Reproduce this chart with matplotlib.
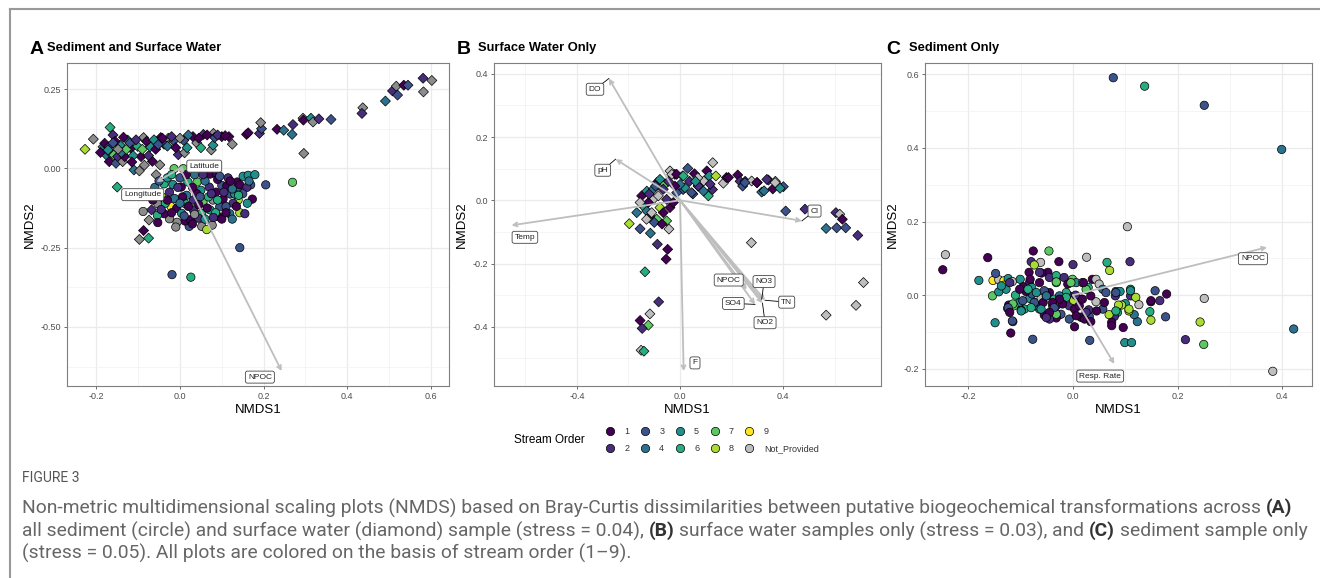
import numpy as np
import matplotlib.pyplot as plt
from matplotlib.lines import Line2D

# ---------------- data ----------------
# Panel A - surface water samples (diamonds); order 0 = Not_Provided
a_sw_x = [-0.227, -0.207, -0.167, -0.160, -0.150, -0.184, -0.180, -0.176, -0.170, -0.169,
          -0.165, -0.158, -0.153, -0.149, -0.143, -0.137, -0.132, -0.125, -0.117, -0.110,
          -0.101, -0.097, -0.093, -0.087, -0.085, -0.071, -0.066, -0.058, -0.048, -0.046,
          -0.038, -0.028, -0.015, -0.004, 0.011, 0.009, 0.017, 0.031, 0.040, 0.056,
          0.075, 0.079, 0.080, 0.083, 0.100, 0.117, 0.125, 0.159, 0.163, 0.190,
          0.195, 0.193, 0.232, 0.248, 0.270, 0.268, 0.296, 0.294, 0.295, 0.313,
          0.318, 0.332, 0.361, 0.437, 0.435, 0.491, 0.508, 0.517, 0.520, 0.535,
          0.545, 0.581, 0.602, 0.582, -0.087, -0.097, -0.075, -0.074, -0.068, -0.057,
          -0.190, -0.172, -0.155, -0.140, -0.128, -0.120, -0.112, -0.105, -0.090, -0.080,
          -0.075, -0.062, -0.052, -0.042, -0.030, -0.020, -0.010, 0.000, 0.020, 0.045,
          0.065, 0.090, 0.108, 0.050, -0.135, -0.148, -0.115, -0.160]
a_sw_y = [0.060, 0.092, 0.129, 0.105, -0.059, 0.068, 0.079, 0.042, 0.068, 0.021,
          0.047, 0.042, 0.016, 0.037, 0.073, 0.021, 0.037, 0.089, 0.063, -0.005,
          0.069, -0.008, 0.037, 0.097, 0.010, 0.068, 0.022, 0.060, 0.011, 0.097,
          0.076, 0.095, 0.087, 0.043, 0.049, 0.088, 0.065, 0.100, 0.080, 0.107,
          0.058, 0.073, 0.110, 0.097, 0.100, 0.100, 0.076, 0.107, 0.112, 0.110,
          0.125, 0.144, 0.123, 0.120, 0.138, 0.107, 0.047, 0.158, 0.152, 0.158,
          0.146, 0.156, 0.154, 0.191, 0.173, 0.212, 0.244, 0.259, 0.231, 0.262,
          0.262, 0.284, 0.277, 0.241, -0.196, -0.224, -0.220, -0.163, -0.131, -0.020,
          0.050, 0.058, 0.085, 0.050, 0.060, 0.080, 0.040, 0.090, 0.060, 0.085,
          0.040, 0.090, 0.075, 0.095, 0.070, 0.100, 0.065, 0.095, 0.105, 0.095,
          0.105, 0.105, 0.103, 0.065, 0.098, 0.060, 0.020, 0.080]
a_sw_order = [8, 0, 6, 2, 6, 4, 1, 4, 2, 1,
              4, 7, 3, 2, 5, 0, 1, 5, 1, 4,
              6, 0, 1, 0, 0, 5, 1, 1, 0, 1,
              2, 0, 3, 2, 0, 3, 5, 1, 0, 2,
              0, 5, 0, 3, 1, 1, 0, 1, 1, 2,
              3, 0, 1, 4, 2, 4, 0, 0, 1, 5,
              0, 2, 3, 0, 2, 4, 2, 0, 3, 1,
              3, 2, 0, 0, 1, 0, 6, 0, 2, 0,
              1, 5, 1, 4, 7, 3, 5, 2, 7, 1,
              2, 5, 3, 1, 4, 2, 1, 0, 4, 1,
              1, 2, 1, 6, 1, 0, 1, 3]

# Panel A - sediment samples (circles)
a_sed_x = [-0.014, 0.008, 0.072, 0.087, 0.137, 0.151, 0.163, 0.179, 0.169, 0.205,
           0.269, 0.139, 0.173, 0.161, 0.139, 0.143, 0.155, 0.119, 0.092, 0.077,
           0.052, 0.064, 0.022, 0.012, -0.007, -0.025, -0.038, -0.054, -0.053, -0.088,
           -0.053, -0.021, -0.043, -0.025, -0.038, -0.017, 0.003, 0.019, 0.041, 0.050,
           0.070, 0.086, 0.100, 0.112, 0.120, 0.103, 0.079, 0.055, 0.032, 0.012,
           -0.008, 0.004, 0.032, 0.052, 0.072, 0.095, 0.127, 0.131, 0.040, 0.016,
           0.048, 0.068, -0.013, 0.006, 0.143, 0.125, 0.110, 0.044, 0.025, 0.143,
           -0.019, 0.026, -0.060, -0.030, 0.000, 0.030, 0.060, 0.090, 0.115, 0.085,
           0.100, 0.020, -0.035, 0.060, 0.125, -0.005, 0.160, 0.075, -0.065, 0.035,
           -0.070, -0.045, -0.020, 0.010, 0.035, 0.065, 0.090, 0.105, 0.135, 0.150,
           0.165, 0.120, 0.095, 0.055, 0.015, -0.020, -0.050, -0.030, 0.000, 0.045,
           0.080, 0.110, 0.030, -0.010, 0.140]
a_sed_y = [-0.001, -0.001, -0.018, -0.018, -0.043, -0.025, -0.022, -0.020, -0.052, -0.052,
           -0.044, -0.060, -0.097, -0.110, -0.100, -0.140, -0.143, -0.143, -0.152, -0.179,
           -0.183, -0.193, -0.183, -0.166, -0.170, -0.159, -0.143, -0.148, -0.171, -0.136,
           -0.112, -0.121, -0.090, -0.075, -0.049, -0.051, -0.059, -0.043, -0.043, -0.069,
           -0.059, -0.075, -0.054, -0.055, -0.081, -0.097, -0.100, -0.106, -0.100, -0.111,
           -0.126, -0.142, -0.131, -0.142, -0.131, -0.121, -0.110, -0.081, -0.080, -0.085,
           -0.090, -0.090, -0.095, -0.090, -0.052, -0.065, -0.120, -0.157, -0.162, -0.250,
           -0.335, -0.343, -0.060, -0.030, -0.030, -0.060, -0.040, -0.035, -0.030, -0.140,
           -0.160, -0.120, -0.110, -0.160, -0.160, -0.060, -0.060, -0.080, -0.100, -0.020,
           -0.080, -0.130, -0.140, -0.150, -0.145, -0.125, -0.100, -0.075, -0.120, -0.080,
           -0.040, -0.040, -0.025, -0.020, -0.020, -0.020, -0.040, -0.100, -0.110, -0.115,
           -0.155, -0.140, -0.175, -0.185, -0.085]
a_sed_order = [7, 7, 1, 1, 1, 5, 5, 5, 3, 3,
               7, 4, 1, 5, 8, 8, 2, 4, 1, 0,
               0, 8, 3, 1, 0, 0, 1, 6, 1, 0,
               0, 9, 8, 2, 6, 5, 1, 6, 7, 5,
               2, 1, 3, 1, 3, 1, 0, 7, 2, 6,
               1, 5, 2, 6, 5, 3, 2, 5, 1, 4,
               3, 6, 4, 1, 1, 4, 3, 2, 1, 3,
               3, 6, 4, 5, 3, 1, 4, 1, 2, 6,
               1, 1, 6, 5, 4, 2, 2, 2, 1, 4,
               1, 2, 1, 3, 0, 1, 6, 2, 1, 3,
               4, 1, 3, 2, 1, 6, 3, 1, 4, 1,
               2, 1, 1, 0, 6]

a_vec_names = ['Latitude', 'Longitude', 'NPOC']
a_vec_x = [0.012, -0.056, 0.243]
a_vec_y = [-0.012, -0.043, -0.639]
a_lab_x = [0.058, -0.089, 0.191]
a_lab_y = [0.007, -0.083, -0.658]

# Panel B - surface water only (diamonds)
b_x = [0.127, 0.030, -0.039, -0.020, 0.010, 0.056, 0.104, 0.092, 0.113, 0.139,
       0.168, 0.180, 0.224, 0.233, 0.243, 0.253, 0.278, 0.300, 0.317, 0.326,
       0.343, 0.360, 0.370, 0.383, 0.401, 0.388, 0.110, 0.126, 0.070, 0.050,
       0.012, 0.037, 0.069, 0.410, 0.485, 0.605, 0.620, 0.630, 0.567, 0.608,
       0.643, 0.690, 0.712, 0.683, 0.567, 0.277, -0.197, -0.155, -0.115, -0.088,
       -0.048, -0.054, -0.052, -0.043, -0.136, -0.083, -0.117, -0.123, -0.155, -0.147,
       -0.151, -0.140, -0.149, -0.129, -0.104, -0.090, -0.078, -0.058, -0.032, -0.013,
       0.013, 0.117, 0.188, 0.252, 0.298, 0.337, 0.369, -0.143, -0.129, -0.117,
       -0.090, -0.078, -0.052, -0.039, -0.104, -0.123, -0.168, -0.155, -0.110, -0.065,
       -0.026, -0.013, 0.019, 0.045, 0.071, 0.091, -0.065, -0.084, -0.120, -0.100,
       -0.070, -0.130, -0.095, -0.045, 0.000, -0.020, 0.060]
b_y = [0.119, 0.101, 0.093, 0.082, 0.077, 0.084, 0.093, 0.061, 0.077, 0.077,
       0.054, 0.072, 0.080, 0.060, 0.045, 0.060, 0.061, 0.056, 0.026, 0.030,
       0.064, 0.036, 0.060, 0.045, 0.043, 0.038, 0.014, 0.034, 0.045, 0.020,
       0.034, 0.060, 0.071, -0.034, -0.028, -0.039, -0.044, -0.060, -0.089, -0.087,
       -0.087, -0.111, -0.260, -0.332, -0.363, -0.134, -0.074, -0.090, -0.104, -0.139,
       -0.155, -0.186, -0.065, -0.091, -0.226, -0.321, -0.359, -0.395, -0.380, -0.405,
       -0.474, -0.477, 0.014, 0.029, 0.035, 0.056, 0.066, 0.051, 0.082, 0.082,
       0.077, 0.051, 0.072, 0.056, 0.056, 0.066, 0.056, -0.018, -0.034, -0.050,
       -0.060, -0.023, 0.003, -0.023, 0.003, -0.007, -0.039, -0.007, -0.039, -0.039,
       -0.007, 0.024, 0.040, 0.024, 0.045, 0.029, 0.035, 0.014, 0.020, -0.070,
       -0.075, -0.060, 0.045, 0.060, 0.050, 0.045, 0.060]
b_order = [0, 3, 0, 1, 5, 1, 1, 0, 5, 8,
           0, 1, 1, 2, 3, 2, 0, 1, 4, 4,
           2, 1, 0, 0, 3, 5, 6, 2, 4, 3,
           3, 2, 0, 3, 2, 2, 0, 1, 4, 3,
           3, 2, 0, 0, 0, 0, 8, 3, 4, 2,
           1, 1, 7, 0, 6, 2, 0, 7, 1, 2,
           0, 6, 1, 5, 4, 1, 5, 7, 0, 1,
           6, 2, 1, 3, 1, 2, 0, 6, 4, 1,
           7, 8, 2, 1, 0, 1, 4, 0, 0, 1,
           1, 3, 5, 3, 2, 4, 2, 0, 2, 3,
           1, 0, 3, 2, 4, 1, 5]

b_vec_names = ['DO', 'pH', 'Temp', 'Cl', 'F', 'NPOC', 'NO3', 'TN', 'SO4', 'NO2']
b_vec_x = [-0.276, -0.250, -0.654, 0.473, 0.014, 0.259, 0.317, 0.330, 0.291, 0.320]
b_vec_y = [0.385, 0.130, -0.079, -0.065, -0.540, -0.282, -0.313, -0.316, -0.329, -0.325]
b_lab_x = [-0.330, -0.300, -0.602, 0.522, 0.058, 0.189, 0.326, 0.414, 0.207, 0.330]
b_lab_y = [0.351, 0.095, -0.117, -0.034, -0.514, -0.252, -0.257, -0.322, -0.326, -0.387]
b_lab_segment = [1, 1, 0, 1, 0, 0, 1, 1, 1, 1]

# Panel C - sediment only (circles)
c_x = [0.077, 0.137, 0.251, 0.399, 0.104, -0.244, -0.249, -0.163, -0.076, -0.046,
       -0.080, -0.062, -0.074, -0.027, 0.000, 0.026, 0.065, 0.070, 0.109, -0.180,
       -0.153, -0.142, -0.148, -0.132, -0.132, -0.124, -0.116, -0.101, -0.128, -0.154,
       -0.142, -0.083, -0.095, -0.079, -0.064, -0.048, -0.045, -0.032, -0.032, -0.017,
       -0.001, 0.006, 0.018, 0.037, 0.044, 0.050, 0.029, 0.057, 0.082, 0.081,
       0.110, 0.110, 0.120, 0.157, 0.179, 0.166, 0.149, 0.147, 0.149, 0.177,
       0.123, 0.117, 0.126, 0.107, 0.100, 0.093, 0.085, 0.079, 0.069, 0.074,
       0.096, 0.099, 0.112, 0.032, 0.031, 0.044, 0.057, 0.045, 0.016, 0.034,
       0.025, -0.007, -0.013, -0.020, -0.007, 0.003, 0.003, -0.007, -0.023, -0.032,
       -0.045, -0.055, -0.064, -0.070, -0.074, -0.083, -0.078, -0.061, -0.057, -0.093,
       -0.102, -0.113, -0.099, -0.123, -0.125, -0.115, -0.119, -0.149, -0.077, -0.039,
       -0.032, -0.051, -0.045, -0.036, -0.026, -0.032, 0.001, 0.215, 0.251, 0.243,
       0.250, 0.422, 0.382, -0.090, -0.010, 0.015, 0.060, -0.060, 0.005, -0.110,
       0.030, 0.090, -0.084, -0.064, -0.082, -0.032, -0.004, 0.020, 0.063, 0.082,
       0.110, 0.149, 0.107, 0.087, 0.082, 0.074, -0.013, -0.020, -0.026, -0.039,
       -0.036, -0.045, -0.051, 0.006, 0.022, 0.034, 0.025, 0.012, 0.018, -0.061,
       -0.074, -0.080, -0.096, -0.099, -0.115, -0.124, -0.121, -0.102, -0.086, -0.070,
       -0.055, -0.051, -0.116, -0.137, -0.121]
c_y = [0.591, 0.568, 0.516, 0.396, 0.186, 0.110, 0.069, 0.102, 0.120, 0.120,
       0.091, 0.089, 0.082, 0.091, 0.083, 0.103, 0.089, 0.067, 0.091, 0.040,
       0.040, 0.042, 0.059, 0.039, 0.027, 0.045, 0.037, 0.043, 0.016, -0.002,
       0.009, 0.034, 0.023, 0.021, 0.034, 0.062, 0.048, 0.053, 0.034, 0.048,
       0.043, 0.034, 0.034, 0.043, 0.043, 0.030, 0.021, 0.016, 0.010, -0.002,
       0.016, -0.002, -0.006, 0.012, 0.003, -0.015, -0.018, -0.045, -0.068, -0.059,
       -0.072, -0.053, -0.026, -0.043, -0.023, -0.027, -0.047, -0.058, -0.053, -0.074,
       -0.088, -0.129, -0.129, -0.123, -0.058, -0.018, -0.038, -0.043, -0.011, -0.002,
       0.016, -0.002, 0.007, -0.020, -0.029, -0.038, -0.086, -0.065, -0.052, -0.062,
       -0.065, -0.054, -0.038, -0.029, -0.020, -0.009, 0.003, -0.009, -0.020, -0.038,
       -0.020, -0.029, -0.041, -0.027, -0.036, -0.072, -0.103, -0.075, -0.120, -0.029,
       -0.052, -0.002, 0.007, -0.011, -0.002, -0.029, -0.014, -0.121, -0.009, -0.073,
       -0.134, -0.092, -0.207, 0.010, 0.030, -0.060, -0.020, 0.060, 0.000, 0.000,
       -0.040, 0.010, 0.062, 0.062, 0.043, 0.036, 0.034, 0.034, 0.007, 0.007,
       0.012, -0.015, -0.038, -0.027, -0.043, -0.083, -0.006, -0.024, -0.011, -0.020,
       -0.034, -0.047, -0.061, -0.056, -0.065, -0.072, -0.047, -0.029, -0.011, -0.038,
       -0.020, -0.034, -0.015, -0.043, -0.024, -0.034, -0.047, 0.016, 0.016, 0.007,
       0.012, -0.002, -0.070, 0.025, 0.034]
c_order = [3, 6, 3, 4, 0, 0, 1, 1, 1, 7,
           2, 0, 8, 1, 2, 0, 6, 8, 2, 5,
           9, 0, 3, 9, 9, 5, 0, 5, 5, 7,
           5, 2, 1, 5, 1, 1, 2, 6, 7, 2,
           7, 5, 0, 1, 0, 0, 6, 4, 4, 2,
           6, 2, 8, 3, 1, 2, 1, 6, 8, 3,
           4, 4, 0, 8, 5, 8, 6, 2, 8, 1,
           1, 5, 5, 3, 3, 0, 3, 1, 1, 1,
           7, 2, 6, 1, 2, 1, 1, 3, 3, 1,
           2, 1, 6, 3, 4, 5, 3, 0, 1, 6,
           5, 7, 3, 1, 3, 3, 1, 5, 3, 2,
           7, 5, 1, 6, 4, 3, 8, 2, 0, 8,
           7, 4, 0, 1, 1, 1, 1, 1, 2, 6,
           2, 5, 1, 2, 1, 7, 7, 1, 3, 3,
           5, 1, 8, 8, 6, 1, 6, 1, 1, 1,
           3, 1, 2, 1, 1, 1, 2, 1, 1, 5,
           3, 6, 3, 5, 7, 3, 1, 1, 6, 5,
           3, 4, 3, 5, 2]

c_vec_names = ['NPOC', 'Resp. Rate']
c_vec_x = [0.371, 0.079]
c_vec_y = [0.130, -0.187]
c_lab_x = [0.344, 0.052]
c_lab_y = [0.099, -0.220]

# axis ticks
a_xticks = [-0.2, 0.0, 0.2, 0.4, 0.6]
a_xticklabels = ['-0.2', '0.0', '0.2', '0.4', '0.6']
a_yticks = [0.25, 0.0, -0.25, -0.5]
a_yticklabels = ['0.25', '0.00', '-0.25', '-0.50']
b_xticks = [-0.4, 0.0, 0.4]
b_xticklabels = ['-0.4', '0.0', '0.4']
b_yticks = [0.4, 0.2, 0.0, -0.2, -0.4]
b_yticklabels = ['0.4', '0.2', '0.0', '-0.2', '-0.4']
c_xticks = [-0.2, 0.0, 0.2, 0.4]
c_xticklabels = ['-0.2', '0.0', '0.2', '0.4']
c_yticks = [0.6, 0.4, 0.2, 0.0, -0.2]
c_yticklabels = ['0.6', '0.4', '0.2', '0.0', '-0.2']

stream_labels = ['1', '2', '3', '4', '5', '6', '7', '8', '9', 'Not_Provided']
stream_colors = ['#440154', '#472D7B', '#3B528B', '#2C728E', '#21908C',
                 '#27AD81', '#5DC863', '#AADC32', '#FDE725']

# ---------------- drawing ----------------
W, H = 1320, 578
plt.rcParams['font.family'] = ['Liberation Sans', 'DejaVu Sans']


def px_box(left, top, right, bottom):
    return [left / W, 1 - bottom / H, (right - left) / W, (bottom - top) / H]


def fill_colors(orders, na_color):
    return [stream_colors[o - 1] if o > 0 else na_color for o in orders]


def minor_between(ticks):
    t = sorted(ticks)
    step = t[1] - t[0]
    return [t[0] - step / 2] + [(t[i] + t[i + 1]) / 2 for i in range(len(t) - 1)] + [t[-1] + step / 2]


def style_axes(ax, xlim, ylim, xt, xtl, yt, ytl):
    ax.set_xticks(xt)
    ax.set_xticklabels(xtl)
    ax.set_yticks(yt)
    ax.set_yticklabels(ytl)
    ax.set_xticks(minor_between(xt), minor=True)
    ax.set_yticks(minor_between(yt), minor=True)
    # limits after the ticks, otherwise the outer minor ticks widen the view
    ax.set_xlim(xlim)
    ax.set_ylim(ylim)
    ax.grid(which='major', color='#EBEBEB', lw=0.9)
    ax.grid(which='minor', color='#F2F2F2', lw=0.5)
    ax.set_axisbelow(True)
    ax.tick_params(which='minor', length=0)
    ax.tick_params(which='major', length=2.5, width=0.5, color='#333333',
                   labelsize=6.5, labelcolor='#4D4D4D', pad=2)
    for s in ax.spines.values():
        s.set_color('#7F7F7F')
        s.set_linewidth(0.8)
    ax.set_xlabel('NMDS1', fontsize=9.5, labelpad=2)
    ax.set_ylabel('NMDS2', fontsize=9.5, labelpad=3)


def draw_vectors(ax, vx, vy, names, lx, ly, seg=None):
    for i in range(len(names)):
        ax.annotate('', xy=(vx[i], vy[i]), xytext=(0, 0),
                    arrowprops=dict(arrowstyle='->', color='#BEBEBE', lw=1.3,
                                    mutation_scale=7, shrinkA=0, shrinkB=0),
                    zorder=4)
        if seg is not None and seg[i]:
            ax.plot([lx[i], vx[i]], [ly[i], vy[i]], color='black', lw=0.6, zorder=5)
        ax.text(lx[i], ly[i], names[i], ha='center', va='center', fontsize=6,
                color='#222222', zorder=6,
                bbox=dict(boxstyle='round,pad=0.3,rounding_size=0.25',
                          fc='white', ec='#444444', lw=0.6))


fig = plt.figure(figsize=(13.2, 5.78), dpi=100)

# Panel A
ax_a = fig.add_axes(px_box(67, 63, 449, 386))
style_axes(ax_a, (-0.27, 0.643), (-0.686, 0.332), a_xticks, a_xticklabels, a_yticks, a_yticklabels)
ax_a.scatter(a_sw_x, a_sw_y, c=fill_colors(a_sw_order, '#8C8C8C'), marker='D', s=26,
             edgecolors='black', linewidths=0.5, zorder=3)
ax_a.scatter(a_sed_x, a_sed_y, c=fill_colors(a_sed_order, '#8C8C8C'), marker='o', s=36,
             edgecolors='black', linewidths=0.5, zorder=3)
draw_vectors(ax_a, a_vec_x, a_vec_y, a_vec_names, a_lab_x, a_lab_y)

# Panel B
ax_b = fig.add_axes(px_box(494, 63, 881, 386))
style_axes(ax_b, (-0.722, 0.78), (-0.587, 0.434), b_xticks, b_xticklabels, b_yticks, b_yticklabels)
ax_b.scatter(b_x, b_y, c=fill_colors(b_order, '#BEBEBE'), marker='D', s=26,
             edgecolors='black', linewidths=0.5, zorder=3)
draw_vectors(ax_b, b_vec_x, b_vec_y, b_vec_names, b_lab_x, b_lab_y, b_lab_segment)

# Panel C
ax_c = fig.add_axes(px_box(925, 63, 1312, 386))
style_axes(ax_c, (-0.283, 0.457), (-0.247, 0.631), c_xticks, c_xticklabels, c_yticks, c_yticklabels)
ax_c.scatter(c_x, c_y, c=fill_colors(c_order, '#BEBEBE'), marker='o', s=36,
             edgecolors='black', linewidths=0.5, zorder=3)
draw_vectors(ax_c, c_vec_x, c_vec_y, c_vec_names, c_lab_x, c_lab_y)

# panel titles
for letter, lx, title, tx in [('A', 30, 'Sediment and Surface Water', 47),
                              ('B', 457, 'Surface Water Only', 478),
                              ('C', 886, 'Sediment Only', 909)]:
    fig.text(lx / W, 1 - 50 / H, letter, fontsize=14, fontweight='bold', va='center')
    fig.text(tx / W, 1 - 48 / H, title, fontsize=9.3, fontweight='bold', va='center')

# legend
handles = []
for i, lab in enumerate(stream_labels):
    col = stream_colors[i] if i < 9 else '#BEBEBE'
    handles.append(Line2D([], [], marker='o', ls='', markerfacecolor=col,
                          markeredgecolor='black', markeredgewidth=0.5, markersize=6))
fig.legend(handles, stream_labels, ncol=5, loc='center left',
           bbox_to_anchor=(601 / W, 1 - 440 / H), frameon=False, fontsize=6.5,
           handlelength=1.0, handletextpad=1.1, columnspacing=1.2,
           labelspacing=0.95, borderpad=0, labelcolor='#333333')
fig.text(585 / W, 1 - 440 / H, 'Stream Order', fontsize=8.5, ha='right', va='center')

# outer frame (top and left edges visible)
fig.add_artist(Line2D([10 / W, 1], [1 - 9 / H, 1 - 9 / H], transform=fig.transFigure,
                      color='#999999', lw=1.5))
fig.add_artist(Line2D([10 / W, 10 / W], [0, 1 - 9 / H], transform=fig.transFigure,
                      color='#999999', lw=1.5))

# caption
renderer = fig.canvas.get_renderer()
cap_font = ['Roboto', 'DejaVu Sans']
cap_lines = [
    [('Non-metric multidimensional scaling plots (NMDS) based on Bray-Curtis dissimilarities '
      'between putative biogeochemical transformations across ', False), ('(A)', True)],
    [('all sediment (circle) and surface water (diamond) sample (stress = 0.04), ', False),
     ('(B)', True), (' surface water samples only (stress = 0.03), and ', False),
     ('(C)', True), (' sediment sample only', False)],
    [('(stress = 0.05). All plots are colored on the basis of stream order (1\u20139).', False)],
]
cap_y = [508, 531, 553]


def text_width(s, **kw):
    t = fig.text(0, 0, s, **kw)
    w = t.get_window_extent(renderer).width
    t.remove()
    return w


def line_width(parts, size):
    return sum(text_width(s, fontsize=size, family=cap_font,
                          fontweight='bold' if b else 'normal') for s, b in parts)


# font size chosen so the longest line spans the caption width of the original
cap_size = 12 * 1280 / max(line_width(p, 12) for p in cap_lines[:2])
space_w = (text_width('x x', fontsize=cap_size, family=cap_font)
           - text_width('xx', fontsize=cap_size, family=cap_font))

for parts, yy in zip(cap_lines, cap_y):
    x = 22
    for s, bold in parts:
        lead = len(s) - len(s.lstrip(' '))
        trail = len(s) - len(s.rstrip(' '))
        x += lead * space_w
        t = fig.text(x / W, 1 - yy / H, s.strip(' '), fontsize=cap_size, family=cap_font,
                     fontweight='bold' if bold else 'normal',
                     color='#333333' if bold else '#666666', va='center')
        x += t.get_window_extent(renderer).width + trail * space_w

fig.text(22 / W, 1 - 478 / H, 'FIGURE 3', fontsize=10, family=cap_font, color='#555555',
         va='center')

fig.savefig('out.png', dpi=100)
